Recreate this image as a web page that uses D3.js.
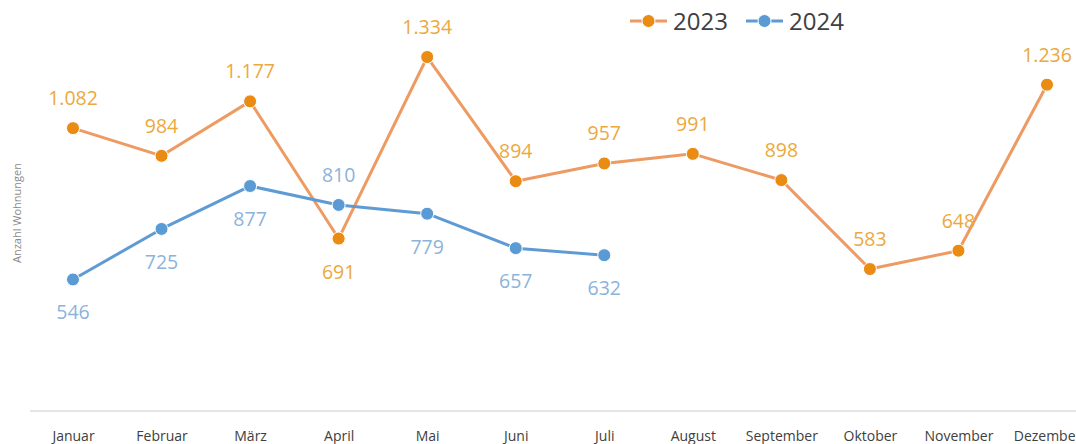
<!DOCTYPE html>
<html>
<head>
<meta charset="utf-8">
<script src="https://cdn.jsdelivr.net/npm/d3@7"></script>
<style>
  html, body { margin: 0; padding: 0; background: #fff; }
  svg { display: block; font-family: "Open Sans", "Noto Sans", sans-serif; }
</style>
</head>
<body>
<svg id="chart" width="1076" height="444"></svg>
<script>
// Monthly counts of dwellings
const months = ["Januar", "Februar", "März", "April", "Mai", "Juni", "Juli",
                "August", "September", "Oktober", "November", "Dezember"];
const values2023 = [1082, 984, 1177, 691, 1334, 894, 957, 991, 898, 583, 648, 1236];
const values2024 = [546, 725, 877, 810, 779, 657, 632];
// label placement per point: 1 = above, -1 = below
const place2023 = [1, 1, 1, -1, 1, 1, 1, 1, 1, 1, 1, 1];
const place2024 = [-1, -1, -1, 1, -1, -1, -1];
const seriesNames = ["2023", "2024"];

const W = 1076, H = 444;
const svg = d3.select("#chart");

const x = d3.scalePoint().domain(months).range([73, 1047]);
const y = d3.scaleLinear().domain([0, 1400]).range([433.6, 38.4]);
const axisY = 411;

const fmt = v => d3.format(",")(v).replace(/,/g, ".");

const series = [
  { name: seriesNames[0], values: values2023, place: place2023,
    line: "#EE9B63", dot: "#EA8B14", label: "#EBA93E" },
  { name: seriesNames[1], values: values2024, place: place2024,
    line: "#5E9BD4", dot: "#5B9BD5", label: "#8CB3DB" }
];

// category axis
const xAxis = d3.axisBottom(x).tickSize(0).tickPadding(20);
const gx = svg.append("g").attr("transform", `translate(0,${axisY})`).call(xAxis);
gx.select(".domain").remove();
gx.append("line").attr("x1", 30).attr("x2", W).attr("y1", 0).attr("y2", 0)
  .attr("stroke", "#dcdcdc").attr("stroke-width", 1.5);
gx.selectAll(".tick text")
  .attr("fill", "#404040").attr("font-size", 14).style("font-family", "Open Sans, sans-serif");

// y title
svg.append("text")
  .attr("transform", "translate(21,213) rotate(-90)")
  .attr("text-anchor", "middle")
  .attr("fill", "#8a8a8a").attr("font-size", 11)
  .text("Anzahl Wohnungen");

const line = d3.line().x((d, i) => x(months[i])).y(d => y(d));

series.forEach(s => {
  const g = svg.append("g");
  g.append("path").datum(s.values)
    .attr("d", line).attr("fill", "none")
    .attr("stroke", s.line).attr("stroke-width", 3).attr("stroke-linejoin", "round");
  g.selectAll("circle").data(s.values).join("circle")
    .attr("cx", (d, i) => x(months[i])).attr("cy", d => y(d))
    .attr("r", 6.5).attr("fill", s.dot).attr("stroke", "#fff").attr("stroke-width", 1);
  g.selectAll("text").data(s.values).join("text")
    .attr("x", (d, i) => x(months[i]))
    .attr("y", (d, i) => y(d) + (s.place[i] > 0 ? -23 : 40))
    .attr("text-anchor", "middle")
    .attr("fill", s.label).attr("font-size", 19.5)
    .text(d => fmt(d));
});

// legend
const legend = svg.append("g");
const legendItems = [{ x: 630, s: series[0] }, { x: 746, s: series[1] }];
legendItems.forEach(({ x: lx, s }) => {
  legend.append("line").attr("x1", lx).attr("x2", lx + 37).attr("y1", 21).attr("y2", 21)
    .attr("stroke", s.line).attr("stroke-width", 3);
  legend.append("circle").attr("cx", lx + 18.5).attr("cy", 21).attr("r", 6.5)
    .attr("fill", s.dot).attr("stroke", "#fff").attr("stroke-width", 1);
  legend.append("text").attr("x", lx + 43).attr("y", 30)
    .attr("fill", "#404040").attr("font-size", 24).text(s.name);
});
</script>
</body>
</html>
